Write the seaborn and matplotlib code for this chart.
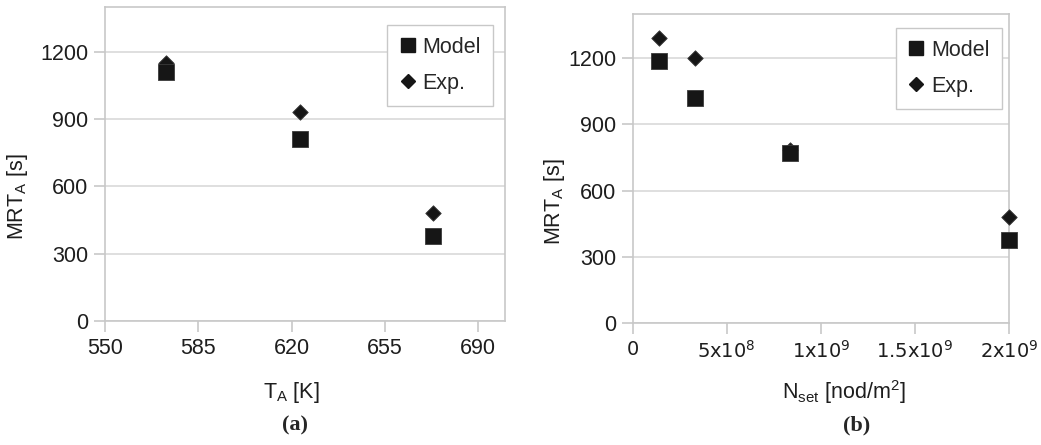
import numpy as np
import pandas as pd
import matplotlib
matplotlib.use("Agg")
import matplotlib.pyplot as plt
import seaborn as sns
from matplotlib.ticker import FixedLocator

# ---- data ----
series_names = ["Model", "Exp."]
temp_K = [573, 623, 673]
mrt_temp_model = [1110, 810, 380]
mrt_temp_exp = [1150, 933, 480]

nset = [1.4e8, 3.3e8, 8.35e8, 2.0e9]
mrt_nset_model = [1185, 1020, 770, 375]
mrt_nset_exp = [1290, 1200, 785, 480]

temp_ticks = [550, 585, 620, 655, 690]
nset_ticks = [0, 5e8, 1e9, 1.5e9, 2e9]
nset_tick_labels = ["0", "5x10$^{8}$", "1x10$^{9}$", "1.5x10$^{9}$", "2x10$^{9}$"]
y_ticks = [0, 300, 600, 900, 1200]

df_a = pd.DataFrame({
    "x": temp_K * 2,
    "y": mrt_temp_model + mrt_temp_exp,
    "series": [series_names[0]] * 3 + [series_names[1]] * 3,
})
df_b = pd.DataFrame({
    "x": nset * 2,
    "y": mrt_nset_model + mrt_nset_exp,
    "series": [series_names[0]] * 4 + [series_names[1]] * 4,
})

sns.set_theme(style="white")
plt.rcParams["font.family"] = ["Liberation Sans", "DejaVu Sans"]
plt.rcParams["mathtext.fontset"] = "custom"
plt.rcParams["mathtext.rm"] = "Liberation Sans"

fig = plt.figure(figsize=(10.41, 4.45), dpi=100)
ax_a = fig.add_axes([0.1009, 0.2787, 0.3842, 0.7056])
ax_b = fig.add_axes([0.6078, 0.2735, 0.3615, 0.6951])

grid_c = "#d9d9d9"
spine_c = "#c8c8c8"
mark_c = "#161616"
txt_c = "#1e1e1e"
fs = 15.5

markers = {"Model": "s", "Exp.": "D"}


def draw(ax, df):
    for name, sz in [("Exp.", 62), ("Model", 125)]:
        sub = df[df["series"] == name]
        sns.scatterplot(data=sub, x="x", y="y", marker=markers[name], s=sz,
                        color=mark_c, edgecolor="#3a3a3a", linewidth=0.6,
                        ax=ax, zorder=3, legend=False, clip_on=False)
    ax.set_ylim(0, 1400)
    ax.yaxis.set_major_locator(FixedLocator(y_ticks))
    ax.grid(axis="y", color=grid_c, linewidth=1.2)
    ax.grid(axis="x", visible=False)
    ax.set_axisbelow(True)
    for sp in ax.spines.values():
        sp.set_color(spine_c)
        sp.set_linewidth(1.2)
        sp.set_visible(True)
    ax.tick_params(axis="both", which="major", length=8, width=1.2,
                   color=spine_c, labelsize=fs, labelcolor=txt_c,
                   direction="out", left=True, bottom=True, pad=4)
    h = [plt.Line2D([], [], marker="s", linestyle="none", markersize=10.5,
                    color=mark_c),
         plt.Line2D([], [], marker="D", linestyle="none", markersize=7.5,
                    color=mark_c)]
    return h


leg_kw = dict(fontsize=fs, frameon=True, fancybox=False, edgecolor=spine_c,
              framealpha=1, handlelength=0.8, handletextpad=0.3,
              borderpad=0.55, labelspacing=0.7, borderaxespad=0)

h = draw(ax_a, df_a)
ax_a.set_xlim(550, 700)
ax_a.xaxis.set_major_locator(FixedLocator(temp_ticks))
ax_a.set_xlabel("T$_\\mathregular{A}$ [K]", fontsize=fs, color=txt_c)
ax_a.set_ylabel("MRT$_\\mathregular{A}$ [s]", fontsize=fs, color=txt_c)
ax_a.xaxis.set_label_coords(0.465, -0.188)
ax_a.yaxis.set_label_coords(-0.1875, 0.395)
ax_a.legend(h, series_names, loc="upper right", bbox_to_anchor=(0.97, 0.943),
            **leg_kw)

h = draw(ax_b, df_b)
ax_b.set_xlim(0, 2e9)
ax_b.xaxis.set_major_locator(FixedLocator(nset_ticks))
ax_b.set_xticklabels(nset_tick_labels)
for lbl in ax_b.get_xticklabels():
    lbl.set_fontfamily("DejaVu Sans")
    lbl.set_math_fontfamily("dejavusans")
    lbl.set_fontsize(14)
ax_b.set_xlabel("N$_\\mathregular{set}$ [nod/m$^\\mathregular{2}$]", fontsize=fs,
                color=txt_c)
ax_b.set_ylabel("MRT$_\\mathregular{A}$ [s]", fontsize=fs, color=txt_c)
ax_b.xaxis.set_label_coords(0.561, -0.177)
ax_b.yaxis.set_label_coords(-0.175, 0.392)
ax_b.legend(h, series_names, loc="upper right", bbox_to_anchor=(0.981, 0.955),
            **leg_kw)

fig.text(295 / 1041, 1 - 425 / 445, "(a)", ha="center", va="center",
         fontsize=16, fontweight="bold", family="Liberation Serif")
fig.text(857 / 1041, 1 - 425 / 445, "(b)", ha="center", va="center",
         fontsize=16, fontweight="bold", family="Liberation Serif")

fig.savefig("out.png", dpi=100)
